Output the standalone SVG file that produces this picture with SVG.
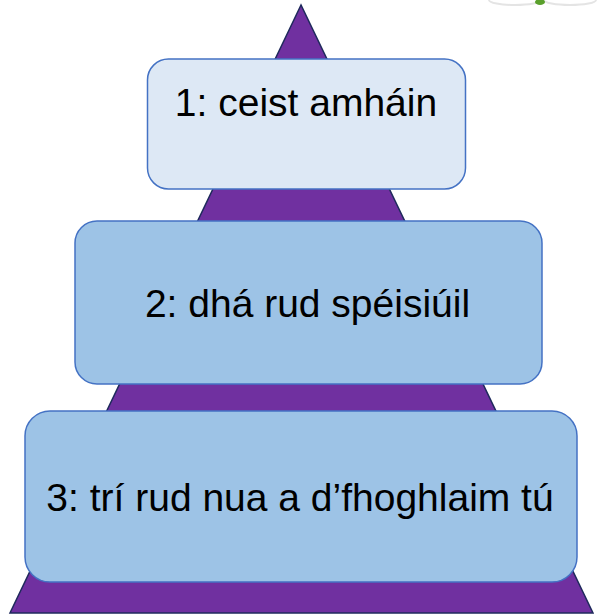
<svg xmlns="http://www.w3.org/2000/svg" width="598" height="614" viewBox="0 0 598 614">
<style>
.tri{fill:#7030a0;stroke:#1f2a5c;stroke-width:1.5}
.box{stroke:#4472c4;stroke-width:1.5}
.lbl{font-family:"Liberation Sans",Arial,sans-serif;font-size:39px;fill:#000;text-anchor:middle}
</style>
<rect width="598" height="614" fill="#ffffff"/>
<g id="decor">
<ellipse cx="515" cy="0" rx="26" ry="5" fill="none" stroke="#e4e4e4" stroke-width="2"/>
<ellipse cx="570" cy="0" rx="26" ry="5" fill="none" stroke="#e4e4e4" stroke-width="2"/>
<ellipse cx="540" cy="2" rx="5" ry="3" fill="#5aa02c"/>
</g>
<g id="pyramid">
<polygon class="tri" points="301,5 10,613 593,613"/>
</g>
<g id="connectors"></g>
<g id="level1">
<rect class="box" x="147.5" y="59" width="318" height="130" rx="21" fill="#dde8f5"/>
<text class="lbl" x="306" y="116">1: ceist amháin</text>
</g>
<g id="level2">
<rect class="box" x="75" y="221" width="467" height="163" rx="22" fill="#9dc3e6"/>
<text class="lbl" x="307.5" y="317">2: dhá rud spéisiúil</text>
</g>
<g id="level3">
<rect class="box" x="25" y="411" width="552" height="171" rx="25" fill="#9dc3e6"/>
<text class="lbl" x="300" y="511">3: trí rud nua a d’fhoghlaim tú</text>
</g>
</svg>
